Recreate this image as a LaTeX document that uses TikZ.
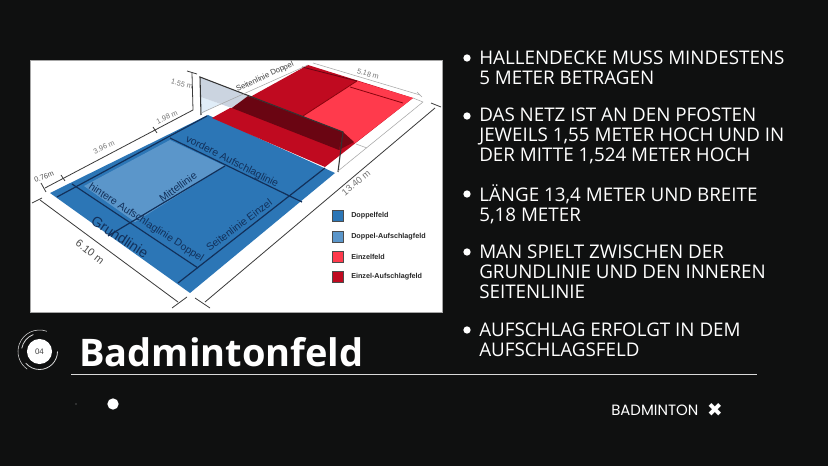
\documentclass[tikz,border=0pt]{standalone}
\usepackage{fontspec}
\setmainfont{Liberation Sans}
\newfontfamily\bodyf{Open Sans}
\newfontfamily\titlef{Open Sans}
\newfontfamily\brandf{Poppins}
\newfontfamily\symf{DejaVu Sans}
\usetikzlibrary{calc}
\definecolor{bg}{HTML}{0F1010}
\definecolor{cblue}{HTML}{2C76B6}
\definecolor{clight}{HTML}{5B96CA}
\definecolor{cline}{HTML}{12305A}
\definecolor{cred}{HTML}{C00A20}
\definecolor{clred}{HTML}{FF3A4C}
\definecolor{cdark}{HTML}{6A0512}
\definecolor{dimc}{HTML}{3A3A3A}
\definecolor{netgrey}{HTML}{CBD4E0}
\definecolor{netpale}{HTML}{E0EDF8}
\tikzset{
  dimline/.style={draw=dimc,line width=0.6pt},
  lightline/.style={draw=gray!70,line width=0.4pt},
  courtline/.style={draw=cline,line width=0.9pt},
  dimlabel/.style={text=gray!90!black,font=\fontsize{5.5}{6}\selectfont,inner sep=0pt},
  courtlabel/.style={text=cline,font=\fontsize{7.8}{8}\selectfont,inner sep=0pt},
  legendbox/.style={draw=black!70,line width=0.5pt,minimum size=8.4pt,inner sep=0pt},
  legendtext/.style={anchor=west,text=black!85,font=\fontsize{5.4}{6}\selectfont\bfseries,inner sep=0pt},
  bulletdot/.style={circle,fill=white,minimum size=5.5pt,inner sep=0pt},
  bullettext/.style={anchor=west,text=white,align=left,inner sep=0pt,font=\bodyf\fontsize{14.1}{14.9}\selectfont}
}
\begin{document}
\begin{tikzpicture}[x=0.75pt,y=-0.75pt]
\useasboundingbox (0,0) rectangle (828,466);
\fill[bg] (0,0) rectangle (828,466);
\node[draw=gray!70,line width=0.4pt,fill=white,minimum width=309pt,minimum height=189pt,inner sep=0pt] (photo) at (236,186) {};
\fill[cblue] (50,193) -- (190,293) -- (335,173) -- (208,115) -- cycle;
\fill[clight] (170,140) -- (225,166) -- (135,222) -- (84,186) -- cycle;
\fill[cred] (212,118) -- (308,65) -- (413,98) -- (325,167) -- cycle;
\fill[clred] (357,81) -- (413,98) -- (355,143) -- (303,116) -- cycle;
% court lines
\coordinate (l1a) at (178,283); \coordinate (l1b) at (325,168);
\coordinate (l2a) at (57,197);  \coordinate (l2b) at (207,116);
\draw[courtline] (l1a) -- (l1b);
\draw[courtline] (l2a) -- (l2b);
\draw[courtline] (72,184) -- (198,268);
\draw[courtline] (170,138) -- (302,202);
\draw[courtline] (225,166) -- (108,236);
\draw[draw=cdark,line width=0.6pt] (302,67) -- (357,81);
\draw[draw=cdark!80!red,line width=0.6pt] (350,87) -- (403,103);
\draw[draw=cdark!80!red,line width=0.6pt] (357,81) -- (303,116);
% net
\fill[netpale] (201,97) -- (201,114) -- (235,97) -- (232,108) -- cycle;
\fill[netgrey] (200,77) -- (248,96) -- (232,108) -- (201,97) -- cycle;
\fill[cdark] (248,96) -- (343,132) -- (339,150) -- (232,108) -- cycle;
\fill[cdark!85!cred] (343,132) -- (354,142) -- (339,150) -- cycle;
\draw[draw=black!80,line width=0.8pt] (201,115) -- (200,77) -- (343,132) -- (338,172);
% thin lines on the white floor
\draw[lightline] (201,113) -- (308,65);
\draw[lightline] (338,171) -- (423,102);
\draw[lightline] (413,98) -- (423,102);
\draw[lightline] (356,144) -- (367,148);
% dimensions
\draw[dimline] (45,188) -- (193,110) -- (192,73);
\draw[dimline] (187,71) -- (197,74);
\draw[dimline] (61,175) -- (65,181);
\draw[dimline] (153,127) -- (157,133);
\draw[dimline] (41,183) -- (46,192);
\draw[dimline] (40,200) -- (178,302);
\draw[dimline] (32,203) -- (42,198);
\draw[dimline] (172,308) -- (187,297);
\draw[dimline] (205,302) -- (435,108);
\draw[dimline] (195,298) -- (210,308);
\draw[dimline] (431,103) -- (441,107);
\draw[lightline] (313,63) -- (420,95);
\draw[lightline] (417,92) -- (422,97);
% labels
\node[dimlabel,rotate=-15] (d155) at (182,84) {1.55 m};
\node[dimlabel,rotate=25] (d198) at (167,117) {1.98 m};
\node[dimlabel,rotate=25] (d396) at (104,147) {3.96 m};
\node[dimlabel,rotate=20,text=black!70] (d076) at (44,177) {0.76m};
\node[dimlabel,rotate=-38,text=black!70,font=\fontsize{8}{9}\selectfont] (d610) at (90,252) {6.10 m};
\node[dimlabel,rotate=40,font=\fontsize{7}{8}\selectfont] (d134) at (356,183) {13.40 m};
\node[dimlabel,rotate=-17] (d518) at (368,74) {5.18 m};
\node[courtlabel,rotate=-33] (hint) at (146,223) {hintere Aufschlaglinie Doppel};
\node[courtlabel,rotate=-33,font=\fontsize{10.6}{11}\selectfont] (grund) at (120,237) {Grundlinie};
\node[courtlabel,rotate=36] (mitte) at (178,187) {Mittellinie};
\node[courtlabel,rotate=37] (seit) at (239,225) {Seitenlinie Einzel};
\node[courtlabel,rotate=-27] (vord) at (232,162) {vordere Aufschlaglinie};
\node[courtlabel,rotate=25,text=black!75,font=\fontsize{5.8}{7}\selectfont] (seitd) at (265,77) {Seitenlinie Doppel};
% legend
\foreach \nm/\yy/\cc/\tt in {a/216/cblue/Doppelfeld,b/237/clight/Doppel-Aufschlagfeld,c/257/clred/Einzelfeld,d/277/cred/Einzel-Aufschlagfeld}{
  \node[legendbox,fill=\cc] (leg\nm) at (338,\yy) {};
  \node[legendtext] (legt\nm) at (351,\yy) {\tt};
}
% bullets
\foreach \nm/\yy/\tx in {
 a/68/{HALLENDECKE MUSS MINDESTENS\\5 METER BETRAGEN},
 b/136/{DAS NETZ IST AN DEN PFOSTEN\\JEWEILS 1,55 METER HOCH UND IN\\DER MITTE 1,524 METER HOCH},
 c/204/{LÄNGE 13,4 METER UND BREITE\\5,18 METER},
 d/272/{MAN SPIELT ZWISCHEN DER\\GRUNDLINIE UND DEN INNEREN\\SEITENLINIE},
 e/340/{AUFSCHLAG ERFOLGT IN DEM\\AUFSCHLAGSFELD}}{
  \node[bullettext] (bt\nm) at (479,\yy) {\tx};
}
\foreach \nm/\yy in {a/58,b/116,c/194,d/252,e/330}{
  \node[bulletdot] (bd\nm) at (467,\yy) {};
}
% title
\node[anchor=west,text=white,inner sep=0pt,font=\titlef\bfseries\fontsize{28.5}{32}\selectfont] (title) at (79,352) {Badmintonfeld};
\draw[draw=white!85!black,line width=0.8pt] (71,374.5) -- (757,374.5);
% badge
\coordinate (bc) at (39.5,351.5);
\node[circle,fill=white,minimum size=18.8pt,inner sep=0pt,text=black!75,font=\fontsize{6}{7}\selectfont] (badge) at (bc) {04};
\draw[white!85!black,line width=0.4pt] (bc) ++(290:21.5) arc[start angle=290,end angle=125,radius=21.5];
\draw[white!85!black,line width=0.6pt] (bc) ++(0:18) arc[start angle=0,end angle=140,radius=18];
\draw[white!85!black,line width=0.6pt] (bc) ++(190:18) arc[start angle=190,end angle=250,radius=18];
% dots
\node[circle,fill=white,minimum size=8.5pt,inner sep=0pt] (dot) at (113,404) {};
\node[circle,fill=white!60!black,minimum size=1pt,inner sep=0pt] (dots) at (76,404) {};
% brand
\node[anchor=west,text=white,inner sep=0pt,font=\brandf\fontsize{11.2}{12}\selectfont] (brand) at (611,410) {BADMINTON};
\node[anchor=center,text=white,inner sep=0pt,font=\symf\fontsize{14}{15}\selectfont] (brandx) at (715,410) {✖};
\end{tikzpicture}
\end{document}
